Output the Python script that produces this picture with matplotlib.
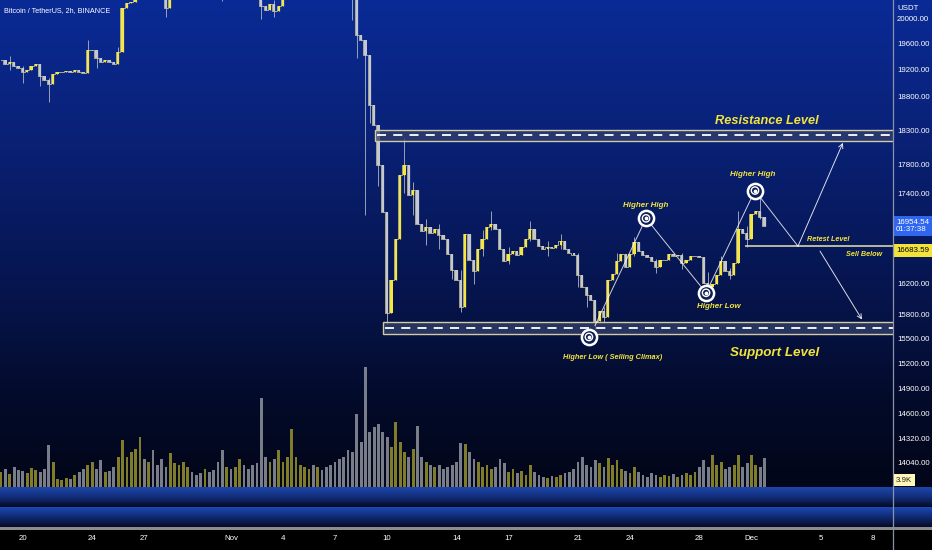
import numpy as np
import matplotlib.pyplot as plt
import matplotlib.transforms as mtransforms
from matplotlib.lines import Line2D
from matplotlib.patches import Rectangle
from matplotlib.ticker import FixedLocator, NullLocator, FuncFormatter

W, H, DPI = 932, 550, 100

# BTC/USDT, resampled to 6h candles
# x is counted in days from Nov 1
start_day = -13.25
step_days = 0.25
closes = [19353, 19291, 19322, 19261, 19230, 19169, 19200, 19261, 19291, 19108,
          19047, 18987, 19138, 19169, 19169, 19184, 19169, 19200, 19169, 19154,
          19506, 19506, 19383, 19322, 19353, 19322, 19291, 19476, 20170, 20255,
          20270, 20650, 20800, 20750, 20850, 20700, 20500, 20350, 20170, 20400,
          20600, 20650, 20750, 20900, 20700, 20650, 20600, 20700, 20500, 20450,
          20400, 20350, 20450, 20400, 20500, 20600, 20450, 20400, 20350, 20320,
          20200, 20140, 20230, 20120, 20200, 20380, 20500, 20700, 20900, 21100,
          21250, 21300, 21200, 21250, 21100, 21000, 20950, 20800, 20700, 20600,
          20550, 20400, 19740, 19663, 19430, 18672, 18378, 17804, 17150, 15825,
          16242, 16778, 17664, 17804, 17386, 17455, 16979, 16885, 16938, 16858,
          16912, 16832, 16778, 16580, 16372, 16242, 15900, 16845, 16503, 16359,
          16646, 16778, 16938, 16979, 16912, 16646, 16489, 16580, 16619, 16567,
          16672, 16778, 16912, 16778, 16685, 16646, 16672, 16659, 16698, 16751,
          16646, 16593, 16567, 16307, 16153, 16052, 15985, 15725, 15850, 15775,
          16242, 16320, 16489, 16580, 16410, 16580, 16738, 16619, 16567, 16541,
          16489, 16410, 16503, 16503, 16580, 16554, 16567, 16462, 16503, 16554,
          16554, 16541, 16204, 16153, 16191, 16307, 16489, 16359, 16307, 16462,
          16912, 16858, 16778, 17113, 17154, 17073, 16952]
volume_k = [2.0, 2.4, 1.7, 2.7, 2.3, 2.1, 1.9, 2.6, 2.3, 2.0, 2.4,
            5.6, 3.4, 1.1, 0.9, 1.2, 1.1, 1.6, 2.0, 2.4, 3.0,
            3.4, 2.4, 3.6, 2.0, 2.1, 2.7, 4.0, 6.3, 4.0, 4.7,
            5.1, 6.7, 3.8, 3.4, 5.0, 3.0, 3.8, 2.7, 4.6, 3.2,
            3.0, 3.4, 2.7, 2.0, 1.6, 1.9, 2.4, 2.0, 2.3, 3.4,
            5.0, 2.7, 2.4, 2.7, 3.8, 3.0, 2.4, 3.0, 3.2, 11.9,
            4.0, 3.4, 3.8, 5.0, 3.4, 4.0, 7.8, 4.0, 3.0, 2.7,
            2.4, 3.0, 2.7, 2.3, 2.7, 3.0, 3.4, 3.8, 4.0, 5.0,
            4.7, 9.8, 6.0, 16.1, 7.4, 8.1, 8.5, 7.4, 6.7, 5.4,
            8.7, 6.0, 4.7, 4.0, 5.1, 8.2, 4.0, 3.4, 3.0, 2.7,
            3.0, 2.4, 2.7, 3.0, 3.4, 5.9, 5.8, 4.7, 3.8, 3.4,
            2.7, 3.0, 2.4, 2.7, 3.8, 3.2, 2.0, 2.4, 1.9, 2.1,
            1.6, 3.0, 2.0, 1.6, 1.3, 1.2, 1.5, 1.3, 1.6, 1.9,
            2.0, 2.4, 3.4, 4.0, 3.0, 2.7, 3.6, 3.2, 2.7, 3.9,
            3.0, 3.6, 2.4, 2.1, 1.9, 2.7, 2.0, 1.6, 1.3, 1.9,
            1.6, 1.3, 1.6, 1.5, 1.7, 1.3, 1.6, 1.9, 1.6, 2.0,
            2.7, 3.6, 2.7, 4.3, 3.0, 3.4, 2.4, 2.7, 3.0, 4.3,
            2.7, 3.2, 4.3, 3.0, 2.7, 3.9]
# the longer wicks only: candle index, low, high
wick_idx = [2, 5, 9, 11, 20, 22, 27, 38, 51, 60, 63, 81, 82, 84, 85, 87, 89, 93,
            95, 98, 101, 104, 106, 109, 111, 113, 117, 122, 126, 129, 133, 135,
            137, 139, 142, 146, 151, 157, 163, 166, 168, 170, 172, 175]
wick_low = [19200, 19000, 18950, 18720, 19169, 19230, 19300, 20028, 20280, 19996,
            20028, 19980, 19380, 17100, 18400, 17500, 15687, 17400, 17100, 16700,
            16650, 16250, 15838, 16191, 16560, 16900, 16450, 16750, 16560, 16650,
            16150, 15900, 15625, 15700, 16350, 16560, 16330, 16380, 16100, 16380,
            16250, 16462, 16680, 17050]
wick_high = [19420, 19260, 19200, 19080, 19663, 19450, 19560, 20400, 20500, 20400,
             20300, 20600, 19800, 19660, 19200, 18378, 17150, 18189, 17560, 17050,
             16980, 16540, 16372, 16503, 16900, 17154, 16680, 17019, 16760, 16845,
             16600, 16150, 15985, 15900, 16600, 16805, 16520, 16600, 16350, 16560,
             16400, 17154, 16950, 17345]

price_ticks = [20000, 19600, 19200, 18800, 18300, 17800, 17400, 16200, 15800,
               15500, 15200, 14900, 14600, 14320, 14040]
date_days = [-12, -8, -5, 0, 3, 6, 9, 13, 16, 20, 23, 27, 30, 34, 37]
date_labels = ['20', '24', '27', 'Nov', '4', '7', '10', '14', '17', '21', '24',
               '28', 'Dec', '5', '8']

resistance = (18150, 18300)
support = (15552, 15712)
zone_start = [8.3, 8.76]
retest_price = 16683.59
retest_start = 29.63
last_price = 16954.54
countdown = '01:37:38'
last_volume = '3.9K'

# the author's drawing (day, price)
swing_days = [20.98, 23.92, 27.38, 30.20, 32.68]
swing_prices = [15663, 17059, 16077, 17441, 16685]
target_days = [20.63, 23.92, 27.38, 30.20]
target_prices = [15521, 17059, 16077, 17441]
up_arrow = [(32.68, 16685), (35.27, 18117)]
down_arrow = [(33.95, 16619), (36.37, 15738)]
notes = [('Higher High', 23.92, 17228, 5.8, 'center'),
         ('Higher High', 30.09, 17659, 5.8, 'center'),
         ('Higher Low', 28.13, 15898, 5.8, 'center'),
         ('Higher Low ( Selling Climax)', 22.02, 15265, 5.3, 'center'),
         ('Retest Level', 33.2, 16768, 5.2, 'left'),
         ('Sell Below', 35.45, 16570, 5.2, 'left'),
         ('Resistance Level', 30.89, 18434, 9.2, 'center'),
         ('Support Level', 31.35, 15325, 9.6, 'center')]

YELLOW = '#f3e43c'
UP = '#f5e642'
DOWN = '#c4c8d2'
FONT = ['Liberation Sans Narrow', 'Liberation Sans', 'DejaVu Sans']
LS = 5.7

fig = plt.figure(figsize=(W / DPI, H / DPI), dpi=DPI)

# background: blue fade plus the two empty indicator panes and the date strip
stops = [(0, (10, 42, 150)), (150, (9, 32, 115)), (300, (6, 20, 75)),
         (400, (3, 11, 42)), (486.5, (2, 6, 24)),
         (487, (30, 70, 172)), (497, (18, 46, 122)), (507, (4, 9, 35)),
         (507.5, (28, 72, 178)), (516, (16, 45, 120)), (527, (5, 10, 38)),
         (527.5, (140, 140, 140)), (529.5, (140, 140, 140)), (530, (0, 0, 0)),
         (550, (0, 0, 0))]
rows = np.arange(H) + 0.5
img = np.zeros((H, 1, 3))
for c in range(3):
    img[:, 0, c] = np.interp(rows, [s[0] for s in stops], [s[1][c] for s in stops])
bg = fig.add_axes([0, 0, 1, 1], zorder=0)
bg.imshow(img / 255, aspect='auto', extent=(0, 1, 0, 1))
bg.axis('off')

x0, x1 = -13.314, 38.156
rect_main = [0, 63 / H, 893 / W, 487 / H]

vol = fig.add_axes([0, 63 / H, 893 / W, 120 / H], zorder=1)
vol.set_facecolor('none')
n = len(closes)
days = start_day + step_days * np.arange(n)
opens = np.array([closes[0]] + closes[:-1])
cl = np.array(closes)
up = cl >= opens
vol.bar(days, volume_k, width=0.16,
        color=np.where(up, '#8f8a2c', '#868b94'), alpha=0.9, linewidth=0)
vol.set_xlim(x0, x1)
vol.set_ylim(0, 16.1)
vol.axis('off')

ax = fig.add_axes(rect_main, zorder=2)
ax.set_facecolor('none')
ax.set_yscale('log')
ax.set_xlim(x0, x1)
ax.set_ylim(13773, 20299)

ax.vlines(days[wick_idx], wick_low, wick_high, color='#9aa1b3', lw=0.7, zorder=2)
# thin price trace joining the candles
ax.plot(days, cl, drawstyle='steps-mid', color='#ddd79a', lw=0.7, alpha=0.75, zorder=2)
ax.vlines(days, np.minimum(opens, cl), np.maximum(opens, cl),
          color=np.where(up, UP, DOWN), lw=0.9, zorder=3)
ax.bar(days, cl - opens, bottom=opens, width=0.13,
       color=np.where(up, UP, DOWN), linewidth=0, zorder=3)

# resistance / support zones
for (lo, hi), xs in zip([resistance, support], zone_start):
    ax.add_patch(Rectangle((xs, lo), x1 + 1 - xs, hi - lo, facecolor=(0.2, 0.25, 0.42, 0.75),
                           edgecolor='#d2cca4', lw=1.0, zorder=4))
    ax.hlines((lo * hi) ** 0.5, xs + 0.1, x1, colors='white', linestyles=(0, (5, 4)),
              lw=1.3, zorder=5)

ax.hlines(retest_price, retest_start, x1, colors='#d9d3a8', lw=1.2, zorder=4)

ax.plot(swing_days, swing_prices, color='white', lw=0.7, alpha=0.8, zorder=5)
for (xa, ya), (xb, yb) in [up_arrow, down_arrow]:
    ax.annotate('', xy=(xb, yb), xytext=(xa, ya),
                arrowprops=dict(arrowstyle='->', color='white', lw=0.7, alpha=0.85,
                                shrinkA=0, shrinkB=0, mutation_scale=8), zorder=5)
ax.scatter(target_days, target_prices, s=120, facecolor='#0d1d55', edgecolor='white',
           linewidth=1.8, zorder=6)
ax.scatter(target_days, target_prices, s=28, facecolor='none', edgecolor='white',
           linewidth=1.0, zorder=7)
ax.scatter(target_days, target_prices, s=3, color='white', zorder=7)

for txt, xd, yp, fs, ha in notes:
    ax.text(xd, yp, txt, color=YELLOW, fontsize=fs, fontweight='bold', fontstyle='italic',
            ha=ha, va='center', family=FONT, zorder=8)

ax.yaxis.tick_right()
ax.yaxis.set_major_locator(FixedLocator(price_ticks))
ax.yaxis.set_minor_locator(NullLocator())
ax.yaxis.set_major_formatter(FuncFormatter(lambda v, p: f'{v:.2f}'))
ax.tick_params(axis='y', length=0, pad=3, labelsize=LS, labelcolor='white')
for lab in ax.get_yticklabels():
    lab.set_family(FONT)
ax.set_xticks([])
for s in ax.spines.values():
    s.set_visible(False)

fig.add_artist(Line2D([893 / W, 893 / W], [0, 1], color='#8a93aa', lw=0.9, zorder=3))

# right-hand labels
tr_y = mtransforms.blended_transform_factory(fig.transFigure, ax.transData)
ax.text(896 / W, last_price, f'{last_price:.2f}\n{countdown}', transform=tr_y,
        color='white', fontsize=LS, va='center', ha='left', family=FONT,
        linespacing=1.1, clip_on=False, zorder=9,
        bbox=dict(boxstyle='square,pad=0.3', fc='#2f66f0', ec='none'))
tr_low = mtransforms.offset_copy(tr_y, fig=fig, x=0, y=-4, units='dots')
ax.text(896 / W, retest_price, f'{retest_price:.2f}', transform=tr_low,
        color='black', fontsize=LS, va='center', ha='left',
        family=FONT, clip_on=False, zorder=9,
        bbox=dict(boxstyle='square,pad=0.35', fc='#f4e23c', ec='none'))
fig.text(896 / W, (H - 480) / H, last_volume, color='#222222', fontsize=LS,
         va='center', ha='left', family=FONT, zorder=9,
         bbox=dict(boxstyle='square,pad=0.3', fc='#fff6b8', ec='none'))
fig.text(897 / W, (H - 9) / H, 'USDT', color='white', fontsize=LS, va='center',
         ha='left', family=FONT, zorder=9,
         bbox=dict(boxstyle='square,pad=0.25', fc='#0a2a96', ec='none'))

fig.text(4 / W, (H - 11) / H, 'Bitcoin / TetherUS, 2h, BINANCE', color='white',
         fontsize=5.2, va='center', ha='left', family=FONT, zorder=9)

tr_x = mtransforms.blended_transform_factory(ax.transData, fig.transFigure)
for d, lab in zip(date_days, date_labels):
    fig.text(d, (H - 539) / H, lab, transform=tr_x, color='white', fontsize=LS,
             ha='center', va='center', family=FONT, zorder=9)

fig.savefig('out.png', dpi=DPI)
